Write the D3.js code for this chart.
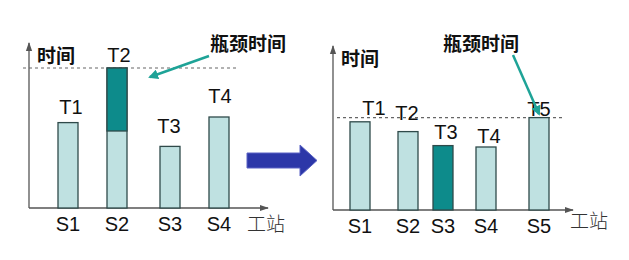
<!DOCTYPE html>
<html>
<head>
<meta charset="utf-8">
<title>瓶颈时间</title>
<style>
	body { margin: 0; background: #fff; }
	text { font-family: "Liberation Sans", Arial, sans-serif; }
	.cjk { font-family: "Noto Sans CJK SC", sans-serif; }
</style>
</head>
<body>
<svg width="629" height="260" class="chart"></svg>
<script src="https://cdn.jsdelivr.net/npm/d3@7/dist/d3.min.js"></script>
<script>
// data (time units, bottleneck = 10 on the left)
stationsBefore = ['S1', 'S2', 'S3', 'S4']
timesBefore = [6.1, 10, 4.4, 6.5]
baseBefore = [6.1, 5.5, 4.4, 6.5]      // light part of each bar
labelsBefore = ['T1', 'T2', 'T3', 'T4']
bottleneckBefore = 10

stationsAfter = ['S1', 'S2', 'S3', 'S4', 'S5']
timesAfter = [6.3, 5.6, 4.6, 4.5, 6.6]
labelsAfter = ['T1', 'T2', 'T3', 'T4', 'T5']
highlightAfter = 'S3'
bottleneckAfter = 6.6

yLabel = '时间'
xLabel = '工站'
noteLabel = '瓶颈时间'

lightFill = '#bfe1e1'
darkFill = '#0d8b8b'
barStroke = '#2f4a4a'
teal = '#1ea397'

svg = d3.select('.chart')

defs = svg.append('defs')
defs.append('marker').attr('id', 'axisHead')
	.attr('viewBox', '0 0 10 10').attr('refX', 9).attr('refY', 5)
	.attr('markerWidth', 7).attr('markerHeight', 7).attr('orient', 'auto')
	.append('path').attr('d', 'M0,1.5 L10,5 L0,8.5 Z').attr('fill', '#555')
defs.append('marker').attr('id', 'tealHead')
	.attr('viewBox', '0 0 10 10').attr('refX', 8).attr('refY', 5)
	.attr('markerWidth', 4).attr('markerHeight', 4).attr('orient', 'auto')
	.append('path').attr('d', 'M0,0 L10,5 L0,10 Z').attr('fill', teal)

function drawPanel(cfg) {
	var g = svg.append('g')
	var y = d3.scaleLinear().domain([0, 10]).range([cfg.base, cfg.base - 140])
	var x = d3.scaleOrdinal().domain(cfg.stations).range(cfg.centers)
	var bw = 20

	// axes
	g.append('line').attr('x1', cfg.left).attr('x2', cfg.left)
		.attr('y1', cfg.base).attr('y2', cfg.top)
		.attr('stroke', '#555').attr('stroke-width', 1.3).attr('marker-end', 'url(#axisHead)')
	g.append('line').attr('x1', cfg.left).attr('x2', cfg.right)
		.attr('y1', cfg.base).attr('y2', cfg.base)
		.attr('stroke', '#555').attr('stroke-width', 1.3).attr('marker-end', 'url(#axisHead)')

	// bottleneck line
	g.append('line').attr('x1', cfg.dashFrom).attr('x2', cfg.dashTo)
		.attr('y1', y(cfg.bottleneck)).attr('y2', y(cfg.bottleneck))
		.attr('stroke', '#666').attr('stroke-width', 1.2).attr('stroke-dasharray', '3,3')

	// bars
	g.selectAll('.bar').data(cfg.stations).enter().append('rect')
		.attr('x', function(d) { return x(d) - bw / 2 })
		.attr('y', function(d, i) { return y(cfg.times[i]) })
		.attr('width', bw)
		.attr('height', function(d, i) { return y(0) - y(cfg.times[i]) })
		.attr('fill', function(d) { return d === cfg.highlight ? darkFill : lightFill })
		.attr('stroke', barStroke).attr('stroke-width', 1.3)

	// dark top part where a bar exceeds its base time
	if (cfg.baseTimes) {
		g.selectAll('.over').data(cfg.stations.filter(function(d, i) { return cfg.times[i] > cfg.baseTimes[i] }))
			.enter().append('rect')
			.attr('x', function(d) { return x(d) - bw / 2 })
			.attr('y', function(d) { return y(cfg.times[cfg.stations.indexOf(d)]) })
			.attr('width', bw)
			.attr('height', function(d) {
				var i = cfg.stations.indexOf(d)
				return y(cfg.baseTimes[i]) - y(cfg.times[i])
			})
			.attr('fill', darkFill).attr('stroke', barStroke).attr('stroke-width', 1.3)
	}

	// T labels
	g.selectAll('.tl').data(cfg.labels).enter().append('text')
		.attr('x', function(d, i) { return x(cfg.stations[i]) + cfg.nudgeX[i] })
		.attr('y', function(d, i) { return y(cfg.times[i]) - cfg.nudgeY[i] })
		.attr('text-anchor', 'middle').attr('font-size', 20).attr('fill', '#111')
		.text(function(d) { return d })

	// S labels
	g.selectAll('.sl').data(cfg.stations).enter().append('text')
		.attr('x', function(d) { return x(d) })
		.attr('y', cfg.base + 23)
		.attr('text-anchor', 'middle').attr('font-size', 20).attr('fill', '#111')
		.text(function(d) { return d })

	g.append('text').attr('class', 'cjk')
		.attr('x', cfg.left + 8).attr('y', cfg.top + 20)
		.attr('font-size', 19).attr('font-weight', 'bold').attr('fill', '#111')
		.text(yLabel)
	g.append('text').attr('class', 'cjk')
		.attr('x', cfg.xLabelX).attr('y', cfg.base + cfg.xLabelDy)
		.attr('font-size', 19).attr('font-weight', 300).attr('fill', '#333')
		.text(xLabel)

	// note + pointer
	g.append('text').attr('class', 'cjk')
		.attr('x', cfg.noteX).attr('y', 51)
		.attr('font-size', 19).attr('font-weight', 'bold').attr('fill', '#111')
		.text(noteLabel)
	g.append('line')
		.attr('x1', cfg.pointer[0]).attr('y1', cfg.pointer[1])
		.attr('x2', cfg.pointer[2]).attr('y2', cfg.pointer[3])
		.attr('stroke', teal).attr('stroke-width', 2.5).attr('marker-end', 'url(#tealHead)')
}

drawPanel({
	stations: stationsBefore, times: timesBefore, baseTimes: baseBefore,
	labels: labelsBefore, bottleneck: bottleneckBefore, highlight: null,
	centers: [68, 117, 170, 219], base: 208, top: 43, left: 29, right: 268,
	dashFrom: 23, dashTo: 238,
	nudgeX: [3, 2, -1, 1], nudgeY: [9, 6, 13, 14],
	xLabelX: 247, xLabelDy: 23, noteX: 210, pointer: [209, 56, 150, 77]
})

drawPanel({
	stations: stationsAfter, times: timesAfter, baseTimes: null,
	labels: labelsAfter, bottleneck: bottleneckAfter, highlight: highlightAfter,
	centers: [360, 408, 443, 486, 539], base: 210, top: 46, left: 333, right: 573,
	dashFrom: 337, dashTo: 565,
	nudgeX: [14, -1, 3, 3, 0], nudgeY: [7, 12, 7, 4, 2],
	xLabelX: 570, xLabelDy: 18, noteX: 443, pointer: [513, 55, 539, 114]
})

// big transition arrow
svg.append('path')
	.attr('d', 'M247,153 L300,153 L300,145 L317,160.5 L300,176 L300,168 L247,168 Z')
	.attr('fill', '#2c37a8').attr('stroke', '#5a63c4').attr('stroke-width', 1)
</script>
</body>
</html>
